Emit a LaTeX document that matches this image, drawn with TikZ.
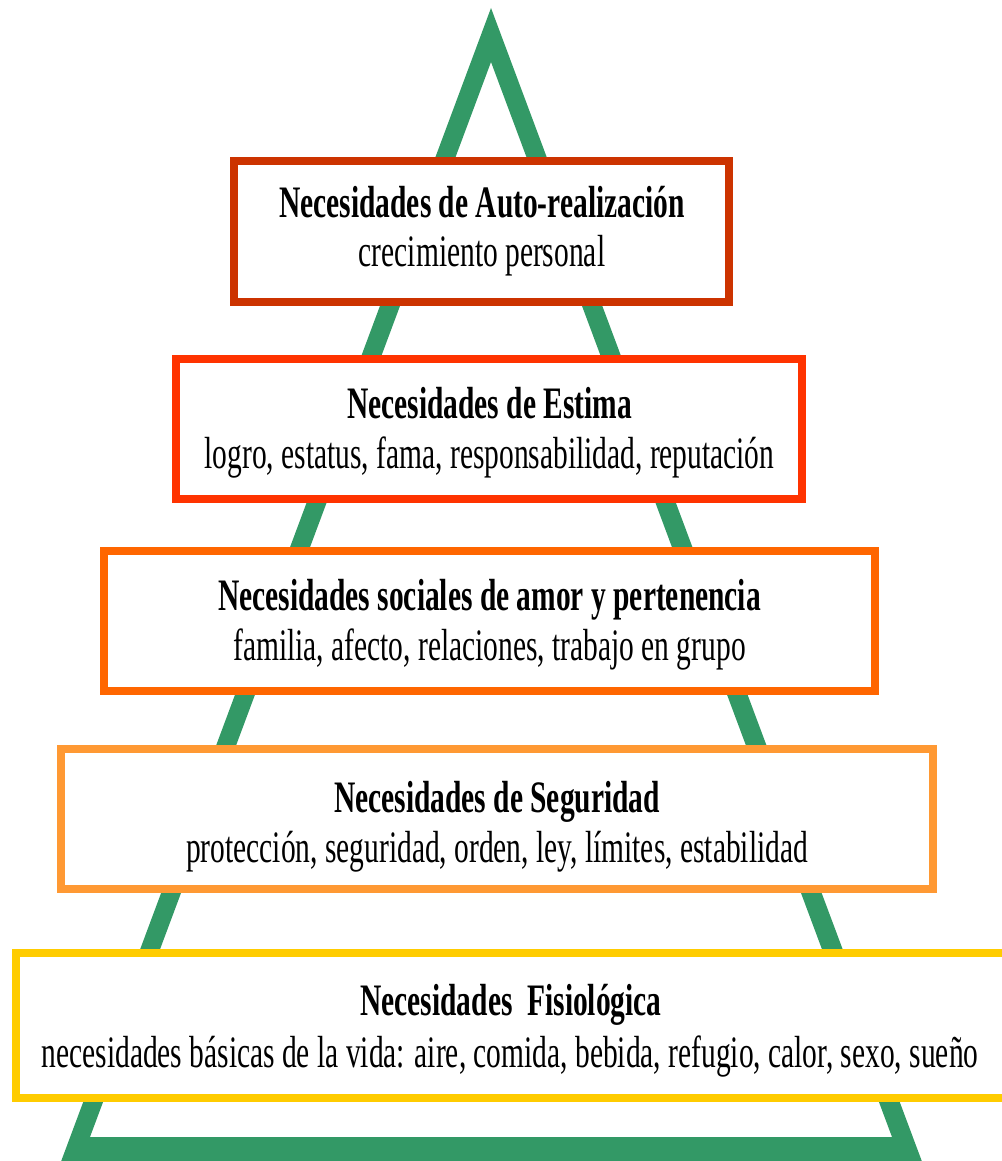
\documentclass[tikz,border=0pt]{standalone}
\usepackage{fontspec}
\setmainfont{Liberation Serif}[FakeStretch=0.655]
\definecolor{trigreen}{RGB}{51,153,102}
\definecolor{cone}{RGB}{204,51,0}
\definecolor{ctwo}{RGB}{255,51,0}
\definecolor{cthree}{RGB}{255,102,0}
\definecolor{cfour}{RGB}{255,153,51}
\definecolor{cfive}{RGB}{255,204,0}
\tikzset{
  levelbox/.style={draw=#1, line width=8pt, fill=white, inner sep=0pt, rectangle},
  ttl/.style={anchor=base, inner sep=0pt, font=\fontsize{45}{50}\selectfont\bfseries, text=black},
  sub/.style={anchor=base, inner sep=0pt, font=\fontsize{45}{50}\selectfont, text=black}
}
\begin{document}
\begin{tikzpicture}[x=1pt,y=-1pt]
\useasboundingbox (0,0) rectangle (1001,1161);
% pyramid outline
\fill[trigreen, even odd rule] (491,8) -- (56,1175) -- (927,1175) -- cycle
  (491,62) -- (892,1137) -- (90,1137) -- cycle;
% boxes
\node[levelbox=cone, minimum width=495pt, minimum height=141pt] (b1) at (481.5,231.5) {};
\node[levelbox=ctwo, minimum width=626pt, minimum height=140pt] (b2) at (489,429) {};
\node[levelbox=cthree, minimum width=771pt, minimum height=140pt] (b3) at (489.5,621) {};
\node[levelbox=cfour, minimum width=872pt, minimum height=140pt] (b4) at (497,819) {};
\node[levelbox=cfive, minimum width=1000pt, minimum height=145pt] (b5) at (516,1025.5) {};
% texts
\node[ttl] (t1) at (482,218) {Necesidades de Auto-realización};
\node[sub] (s1) at (482,266) {crecimiento personal};
\node[ttl] (t2) at (489.5,418) {Necesidades de Estima};
\node[sub] (s2) at (489.5,468) {logro, estatus, fama, responsabilidad, reputación};
\node[ttl] (t3) at (489.5,610) {Necesidades sociales de amor y pertenencia};
\node[sub] (s3) at (489.5,660) {familia, afecto, relaciones, trabajo en grupo};
\node[ttl] (t4) at (497,812) {Necesidades de Seguridad};
\node[sub] (s4) at (497,862) {protección, seguridad, orden, ley, límites, estabilidad};
\node[ttl] (t5) at (511,1015) {Necesidades\ \ Fisiológica};
\node[sub] (s5) at (510,1067) {necesidades básicas de la vida: aire, comida, bebida, refugio, calor, sexo, sueño};
\end{tikzpicture}
\end{document}
